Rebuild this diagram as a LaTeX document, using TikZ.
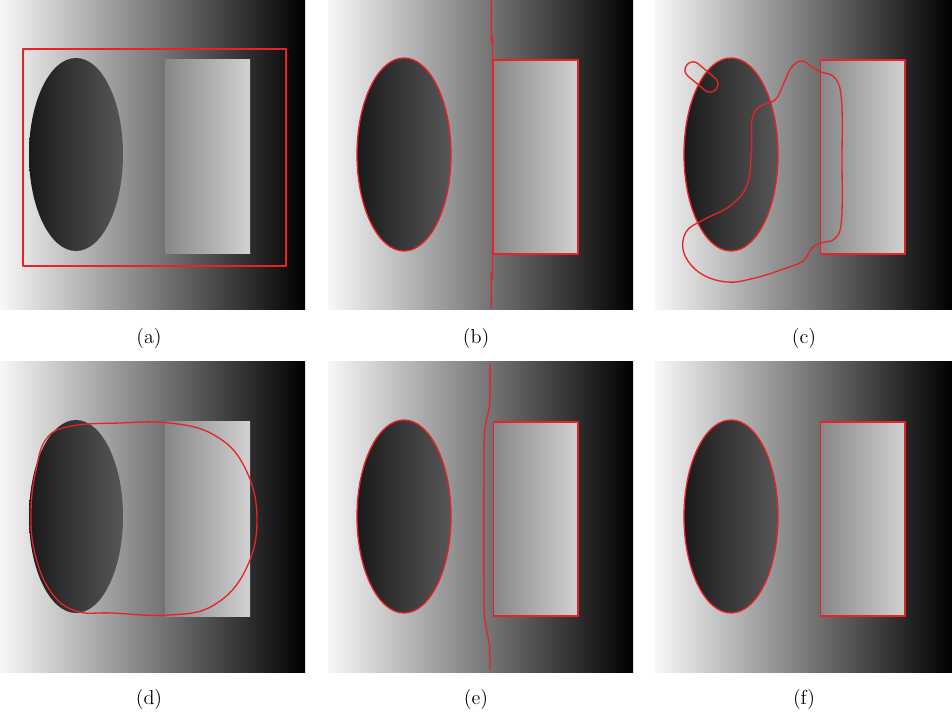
\documentclass[tikz,border=0pt]{standalone}
\usepackage{tikz}

\definecolor{contourred}{RGB}{232,34,40}
\tikzset{
    panelbg/.style={
        left color=white!97!black,
        right color=black
    },
    darkblob/.style={
        left color=black!90,
        right color=black!66
    },
    lightblock/.style={
        left color=black!47,
        right color=black!18
    },
    redcurve/.style={
        draw=contourred,
        line width=0.75pt,
        line join=round
    },
    subcap/.style={
        font=\fontsize{11.5}{13}\selectfont,
        inner sep=0pt
    }
}

\begin{document}
\begin{tikzpicture}[x=0.02cm, y=-0.02cm]
\useasboundingbox (0,0) rectangle (952,715);

% the same scene under each of the six panels
\foreach \px/\py/\pw in {0/0/305, 328/0/305, 655/0/297, 0/362/305, 328/362/305, 655/362/297} {
    \begin{scope}[shift={(\px,\py)}]
        \shade[panelbg] (0,0) rectangle (\pw,310);
        \shade[darkblob] (76,154.5) ellipse [x radius=47, y radius=96.5];
        \shade[lightblock] (165.5,60) rectangle (250,254);
    \end{scope}
}

% (a) initial contour
\draw[redcurve] (23,49) rectangle (286,266);

% (b)
\begin{scope}[shift={(328,0)}]
    \draw[redcurve] (76,154.5) ellipse [x radius=47, y radius=96.5];
    \draw[redcurve] (165.5,60) rectangle (250,254);
    \draw[redcurve] plot[smooth, tension=0.7] coordinates {(163.4,1) (163.4,40) (164.6,58) (164.6,258) (163.4,274) (163.4,308)};
\end{scope}

% (c)
\begin{scope}[shift={(655,0)}]
    \draw[redcurve] (76,154.5) ellipse [x radius=47, y radius=96.5];
    \draw[redcurve] (165.5,60) rectangle (250,254);
    \draw[redcurve] plot[smooth cycle, tension=0.65] coordinates {
        (147,61) (159,68.5) (166,72) (180,78) (186.5,100) (187,160)
        (186.5,220) (180,238.5) (166,243) (157,248) (148,261) (130,268.5)
        (100,278) (72,282) (45,273) (29,253) (31,232) (48,220) (75,206)
        (92,185) (96.5,150) (97,120) (104,107) (120,100) (128,85) (136,68)};
    \draw[redcurve, rounded corners=4.4pt, rotate around={-40:(46.5,77)}]
        (27.5,69) rectangle (65.5,85);
\end{scope}

% (d)
\begin{scope}[shift={(0,362)}]
    \draw[redcurve] plot[smooth cycle, tension=0.7] coordinates {
        (47,76) (72,64) (120,61) (170,61) (214,73) (244,104) (257,155)
        (246,207) (214,243) (170,253) (112,251) (76,249) (51,230)
        (35,192) (31,150) (36,108)};
\end{scope}

% (e)
\begin{scope}[shift={(328,362)}]
    \draw[redcurve] (76,154.5) ellipse [x radius=47, y radius=96.5];
    \draw[redcurve] (165.5,60) rectangle (250,254);
    \draw[redcurve] plot[smooth, tension=0.6] coordinates {(162,2) (161.6,42) (157,66) (156,100) (156,235) (157.5,262) (161.4,283) (162,308)};
\end{scope}

% (f)
\begin{scope}[shift={(655,362)}]
    \draw[redcurve] (76,154.5) ellipse [x radius=47, y radius=96.5];
    \draw[redcurve] (165.5,60) rectangle (250,254);
\end{scope}

% captions
\node[subcap] (capa) at (149,338) {(a)};
\node[subcap] (capb) at (476,338) {(b)};
\node[subcap] (capc) at (804,338) {(c)};
\node[subcap] (capd) at (149,699) {(d)};
\node[subcap] (cape) at (476,699) {(e)};
\node[subcap] (capf) at (804,699) {(f)};

\end{tikzpicture}
\end{document}
